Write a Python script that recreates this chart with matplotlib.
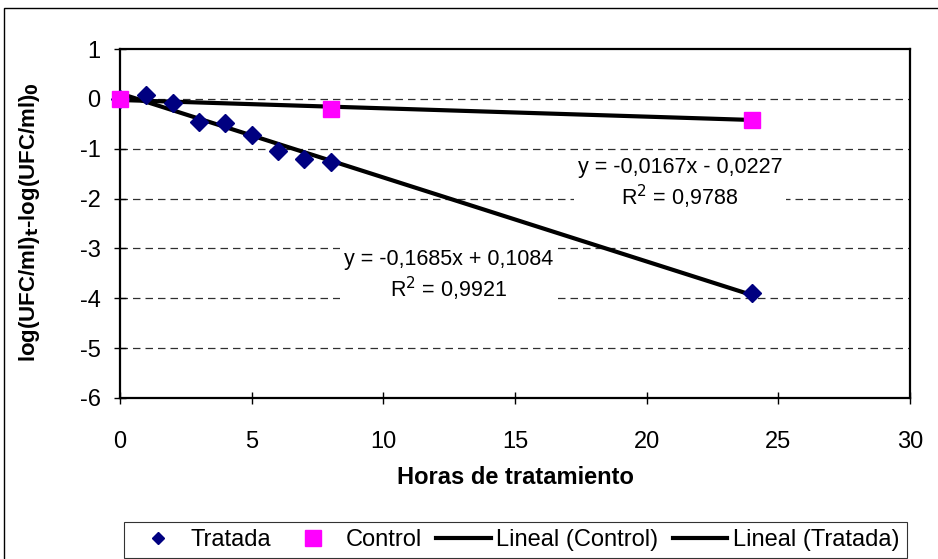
import matplotlib
matplotlib.use("Agg")
import matplotlib.pyplot as plt
from matplotlib.lines import Line2D
import numpy as np

plt.rcParams['font.family'] = ['Liberation Sans', 'DejaVu Sans']

# Data
tratada_x = [0, 1, 2, 3, 4, 5, 6, 7, 8, 24]
tratada_y = [0.0, 0.08, -0.08, -0.46, -0.49, -0.72, -1.04, -1.20, -1.27, -3.89]
control_x = [0, 8, 24]
control_y = [0.0, -0.21, -0.42]

# Trendline coefficients (slope, intercept) as shown in chart
control_fit = (-0.0167, -0.0227)
tratada_fit = (-0.1685, 0.1084)
fit_range = [0, 24]

x_ticks = [0, 5, 10, 15, 20, 25, 30]
y_ticks = [1, 0, -1, -2, -3, -4, -5, -6]

W, H = 938, 559
fig = plt.figure(figsize=(W/100, H/100), dpi=100)
# outer frame
fig.patches.append(plt.Rectangle((4/W, -0.1), 1.2, (H-8)/H + 0.1, transform=fig.transFigure,
                                 fill=False, edgecolor='black', linewidth=1.0))

ax = fig.add_axes([120/W, 1-398/H, (910-120)/W, (398-49)/H])
ax.set_xlim(0, 30)
ax.set_ylim(-6, 1)
ax.set_xticks(x_ticks)
ax.set_yticks(y_ticks)
ax.set_xticklabels([str(t) for t in x_ticks])
ax.set_yticklabels([str(t) for t in y_ticks])
ax.tick_params(direction='inout', length=8, width=1, labelsize=17)
ax.tick_params(axis='x', pad=20)
ax.tick_params(axis='y', pad=10)
for s in ax.spines.values():
    s.set_linewidth(1.6)
    s.set_color('black')

for yv in [0, -1, -2, -3, -4, -5]:
    ax.axhline(yv, color='#303030', linestyle=(0, (6, 4)), linewidth=0.9, zorder=1)

xs = np.array(fit_range, dtype=float)
ax.plot(xs, control_fit[0]*xs + control_fit[1], color='black', linewidth=3, zorder=3)
ax.plot(xs, tratada_fit[0]*xs + tratada_fit[1], color='black', linewidth=3, zorder=3)
ax.plot(tratada_x, tratada_y, linestyle='none', marker='D', markersize=9,
        color='#000080', zorder=4, clip_on=False)
ax.plot(control_x, control_y, linestyle='none', marker='s', markersize=11,
        color='#FF00FF', zorder=5, clip_on=False)

fig.canvas.draw()
def data_from_px(px, py):
    inv = ax.transData.inverted()
    return inv.transform((px, H - py))

for (px, py, txt) in [(680, 184, 'y = -0,0167x - 0,0227\nR$^2$ = 0,9788'),
                      (449, 276, 'y = -0,1685x + 0,1084\nR$^2$ = 0,9921')]:
    dx, dy = data_from_px(px, py)
    ax.text(dx, dy, txt, ha='center', va='center', fontsize=15.5, zorder=6,
            linespacing=1.2, multialignment='center',
            bbox=dict(facecolor='white', edgecolor='none', pad=3))

fig.text(515/W, 1-477/H, 'Horas de tratamiento', fontsize=17, fontweight='bold',
         ha='center', va='center')
fig.text(30/W, 1-222/H, 'log(UFC/ml)$_\\mathbf{t}$-log(UFC/ml)$_\\mathbf{0}$', fontsize=16,
         fontweight='bold', rotation=90, ha='center', va='center')

h1 = Line2D([], [], linestyle='none', marker='D', markersize=6.5, color='#000080')
h2 = Line2D([], [], linestyle='none', marker='s', markersize=11, color='#FF00FF')
h3 = Line2D([], [], color='black', linewidth=3)
h4 = Line2D([], [], color='black', linewidth=3)
leg = fig.legend([h1, h2, h3, h4], ['Tratada', 'Control', 'Lineal (Control)', 'Lineal (Tratada)'],
                 loc='center', bbox_to_anchor=(515/W, 1-540/H),
                 ncol=4, fontsize=17, frameon=True, fancybox=False,
                 borderaxespad=0, borderpad=0.3, handlelength=2.3, columnspacing=0.6,
                 handletextpad=0.25)
leg.get_frame().set_edgecolor('black')
leg.get_frame().set_linewidth(0.8)

fig.savefig('out.png', dpi=100)
